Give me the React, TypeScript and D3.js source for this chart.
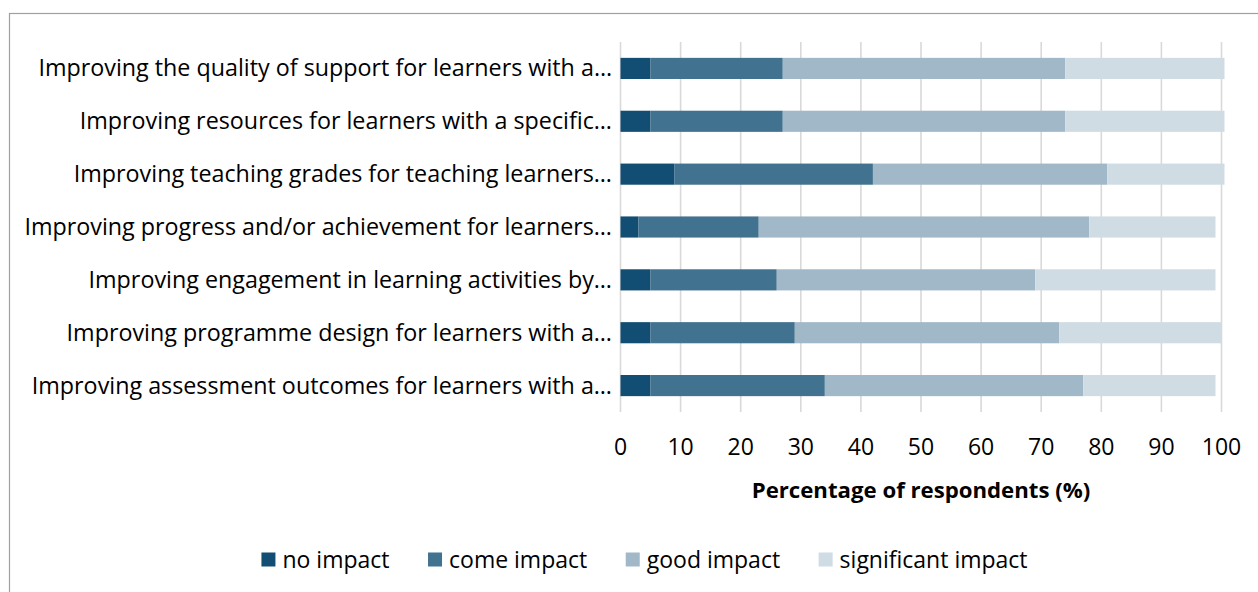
import React, { useEffect, useRef } from "react";
import * as d3 from "d3";

const categories = [
  "Improving the quality of support for learners with a…",
  "Improving resources for learners with a specific…",
  "Improving teaching grades for teaching learners…",
  "Improving progress and/or achievement for learners…",
  "Improving engagement in learning activities by…",
  "Improving programme design for learners with a…",
  "Improving assessment outcomes for learners with a…",
];
const seriesNames = ["no impact", "come impact", "good impact", "significant impact"];
const noImpact = [5, 5, 9, 3, 5, 5, 5];
const comeImpact = [22, 22, 33, 20, 21, 24, 29];
const goodImpact = [47, 47, 39, 55, 43, 44, 43];
const significantImpact = [26.5, 26.5, 19.5, 21, 30, 27, 22];
const xTicks = [0, 10, 20, 30, 40, 50, 60, 70, 80, 90, 100];
const axisTitle = "Percentage of respondents (%)";

const colors = ["#124e73", "#41728f", "#a1b8c8", "#cfdce4"];
const FONT = "'Open Sans', 'Noto Sans', sans-serif";

export default function App() {
  const ref = useRef<SVGSVGElement | null>(null);

  useEffect(() => {
    const svg = d3.select(ref.current);
    svg.selectAll("*").remove();

    // frame
    svg.append("rect").attr("x", 9.5).attr("y", 13.5).attr("width", 1300).attr("height", 700)
      .attr("fill", "#fff").attr("stroke", "#a0a0a0").attr("stroke-width", 1.2);

    const x = d3.scaleLinear().domain([0, 100]).range([620.5, 1221.5]);
    const y = d3.scaleBand<string>().domain(categories).range([42, 412]).paddingInner(0.6).paddingOuter(0.3);

    // gridlines
    svg.append("g").selectAll("line").data(xTicks).join("line")
      .attr("x1", (d) => x(d)).attr("x2", (d) => x(d))
      .attr("y1", 42).attr("y2", 412)
      .attr("stroke", "#d9d9d9").attr("stroke-width", 1.6);

    const table = categories.map((c, i) => {
      const vals = [noImpact[i], comeImpact[i], goodImpact[i], significantImpact[i]];
      const o: any = { cat: c };
      seriesNames.forEach((s, j) => (o[s] = vals[j]));
      return o;
    });
    const stacked = d3.stack<any>().keys(seriesNames)(table);

    const gBars = svg.append("g");
    stacked.forEach((layer, j) => {
      gBars.append("g").attr("fill", colors[j]).selectAll("rect").data(layer).join("rect")
        .attr("x", (d) => x(d[0]))
        .attr("width", (d) => x(d[1]) - x(d[0]))
        .attr("y", (d) => y((d as any).data.cat)!)
        .attr("height", y.bandwidth());
    });

    // category labels
    svg.append("g").selectAll("text").data(categories).join("text")
      .attr("x", 612).attr("y", (d) => y(d)! + y.bandwidth() / 2 + 8)
      .attr("text-anchor", "end").attr("font-family", FONT).attr("font-size", 23.3)
      .attr("fill", "#000").text((d) => d);

    // tick labels
    svg.append("g").selectAll("text").data(xTicks).join("text")
      .attr("x", (d) => x(d)).attr("y", 455)
      .attr("text-anchor", "middle").attr("font-family", FONT).attr("font-size", 23)
      .attr("fill", "#000").text((d) => String(d));

    svg.append("text").attr("x", (x(0) + x(100)) / 2).attr("y", 498)
      .attr("text-anchor", "middle").attr("font-family", FONT).attr("font-size", 22.2)
      .attr("font-weight", "bold").attr("fill", "#000").text(axisTitle);

    // legend
    const leg = svg.append("g");
    const sq = 14, gap = 7, spacing = 38.5;
    const items = seriesNames.map((name, j) => {
      const g = leg.append("g");
      g.append("rect").attr("width", sq).attr("height", sq).attr("y", -sq / 2).attr("fill", colors[j]);
      const t = g.append("text").attr("x", sq + gap).attr("y", 8).attr("font-family", FONT)
        .attr("font-size", 23).attr("fill", "#000").text(name);
      const w = (t.node() as SVGTextElement).getComputedTextLength();
      return { g, w: sq + gap + w };
    });
    const total = d3.sum(items, (d) => d.w) + spacing * (items.length - 1);
    let cx = 644.5 - total / 2;
    items.forEach((it) => {
      it.g.attr("transform", `translate(${cx},559.5)`);
      cx += it.w + spacing;
    });
  }, []);

  return (
    <svg ref={ref} width={1258} height={592}
      style={{ position: "absolute", left: 0, top: 0, background: "#fff" }} />
  );
}
